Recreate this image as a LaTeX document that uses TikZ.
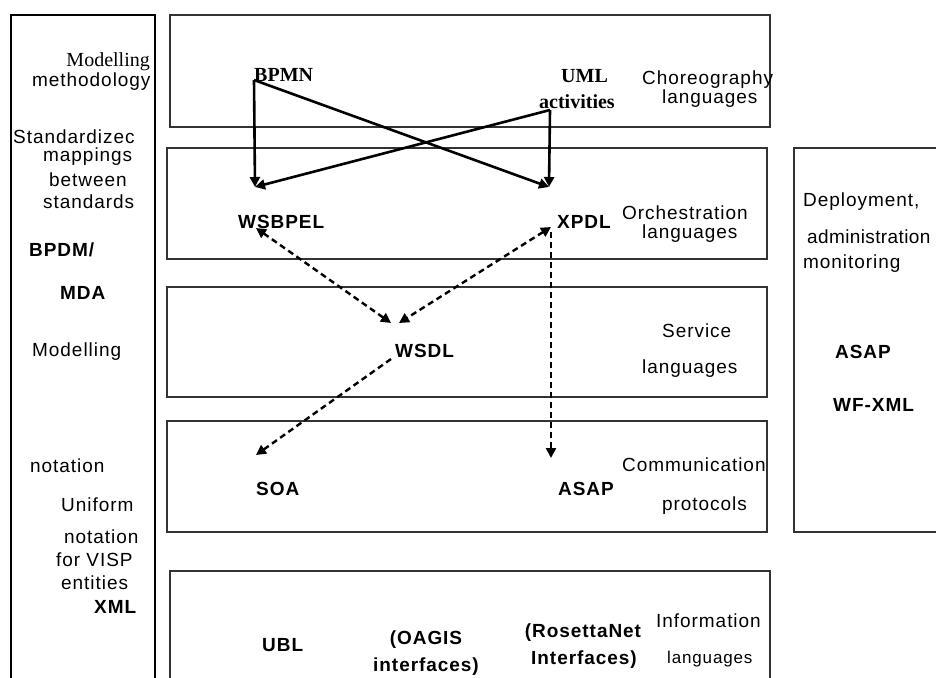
\documentclass[tikz,border=0pt]{standalone}
\usepackage{fontspec}
\setmainfont{Liberation Serif}
\newfontfamily\sansfam[LetterSpace=5]{Liberation Sans}
\newfontfamily\sanstight[LetterSpace=2]{Liberation Sans}
\usetikzlibrary{arrows.meta}
\tikzset{
  lbl/.style={inner sep=0pt, anchor=west, font=\sansfam\fontsize{19}{20}\selectfont},
  lblb/.style={inner sep=0pt, anchor=west, font=\sansfam\bfseries\fontsize{19}{20}\selectfont},
  lbls/.style={inner sep=0pt, anchor=west, font=\fontsize{20}{20}\selectfont},
  lblsb/.style={inner sep=0pt, anchor=west, font=\bfseries\fontsize{20}{20}\selectfont},
  layer/.style={draw=black!80, line width=1.4pt},
  sidebar/.style={draw=black, line width=2.6pt},
  tip/.tip={Triangle[length=10pt,width=10pt]},
  link/.style={line width=2.6pt, -tip},
  dlink/.style={line width=2.4pt, dash pattern=on 6pt off 4pt, -tip},
  ddlink/.style={line width=2.4pt, dash pattern=on 6pt off 4pt, tip-tip},
}
\begin{document}
\begin{tikzpicture}[x=1pt,y=-1pt]
\useasboundingbox (0,0) rectangle (936,677);
\fill[white] (0,0) rectangle (936,677);
\clip (0,0) rectangle (936,677);

% left column frame
\draw[sidebar] (11,690) -- (11,15) -- (155,15) -- (155,690);
% layer frames
\draw[layer] (170,15) rectangle (770,127);
\draw[layer] (167,148) rectangle (767,259);
\draw[layer] (167,287) rectangle (767,397);
\draw[layer] (167,421) rectangle (767,532);
\draw[layer] (170,690) -- (170,571) -- (770,571) -- (770,690);
% right column frame
\draw[layer] (945,148) -- (794,148) -- (794,532) -- (945,532);

% left column texts
\node[lbls, anchor=east] (lmodel) at (150,62) {Modelling};
\node[lbl] (lmeth) at (32,82) {methodology};
\node[lbl] (lstd) at (13,137) {Standardizec};
\node[lbl] (lmap) at (43,157) {mappings};
\node[lbl] (lbetw) at (49,180) {between};
\node[lbl] (lstds) at (43,202) {standards};
\node[lblb] (lbpdm) at (29,250) {BPDM/};
\node[lblb] (lmda) at (60,293) {MDA};
\node[lbl] (lmod2) at (32,352) {Modelling};
\node[lbl] (lnot) at (30,466) {notation};
\node[lbl] (luni) at (61,505) {Uniform};
\node[lbl] (lnot2) at (64,537) {notation};
\node[lbl] (lfor) at (56,560) {for VISP};
\node[lbl] (lent) at (61,583) {entities};
\node[lblb] (lxml) at (94,607) {XML};

% choreography layer
\node[lblsb] (bpmn) at (254,75) {BPMN};
\node[lblsb] (uml) at (561,76) {UML};
\node[lblsb] (umlact) at (539,102) {activities};
\node[lbl] (chor1) at (642,80) {Choreography};
\node[lbl] (chor2) at (662,99) {languages};

% orchestration layer
\node[lblb] (wsbpel) at (238,222) {WSBPEL};
\node[lblb] (xpdl) at (557,222) {XPDL};
\node[lbl] (orch1) at (622,213) {Orchestration};
\node[lbl] (orch2) at (642,234) {languages};

% service layer
\node[lblb] (wsdl) at (395,351) {WSDL};
\node[lbl] (serv1) at (662,331) {Service};
\node[lbl] (serv2) at (642,369) {languages};

% communication layer
\node[lblb] (soa) at (256,489) {SOA};
\node[lblb] (asap) at (558,489) {ASAP};
\node[lbl] (comm1) at (622,465) {Communication};
\node[lbl] (comm2) at (662,506) {protocols};

% information layer
\node[lblb] (ubl) at (262,645) {UBL};
\node[lblb, anchor=center] (oagis1) at (426,640) {(OAGIS};
\node[lblb, anchor=center] (oagis2) at (426,667) {interfaces)};
\node[lblb, anchor=center] (rosetta1) at (583,633) {(RosettaNet};
\node[lblb, anchor=center] (rosetta2) at (584,660) {Interfaces)};
\node[lbl] (info1) at (656,621) {Information};
\node[lbl, font=\sansfam\fontsize{17}{20}\selectfont] (info2) at (667,659) {languages};

% right column texts
\node[lbl] (rdep) at (803,202) {Deployment,};
\node[lbl, font=\sanstight\fontsize{19}{20}\selectfont] (radm) at (807,237) {administration};
\node[lbl] (rmon) at (803,264) {monitoring};
\node[lblb] (rasap) at (835,352) {ASAP};
\node[lblb] (rwf) at (833,405) {WF-XML};

% connector end points next to the labels
\coordinate (bpmnC) at (254,80);
\coordinate (umlC) at (550,110);
\coordinate (wsbpelT) at (255,187);
\coordinate (xpdlT) at (549,187);
\coordinate (wsbpelB) at (256,228);
\coordinate (xpdlB) at (551,227);
\coordinate (xpdlD) at (551,232);
\coordinate (wsdlL) at (391,323);
\coordinate (wsdlR) at (399,323);
\coordinate (wsdlB) at (391,359);
\coordinate (soaT) at (256,455);
\coordinate (asapT) at (551,458);

% mappings between choreography and orchestration languages
\draw[link] (bpmnC) -- (wsbpelT);
\draw[link] (bpmnC) -- (xpdlT);
\draw[link] (umlC) -- (xpdlT);
\draw[link] (umlC) -- (wsbpelT);

% service and protocol links
\draw[ddlink] (wsbpelB) -- (wsdlL);
\draw[ddlink] (xpdlB) -- (wsdlR);
\draw[dlink] (xpdlD) -- (asapT);
\draw[dlink] (wsdlB) -- (soaT);
\end{tikzpicture}
\end{document}
